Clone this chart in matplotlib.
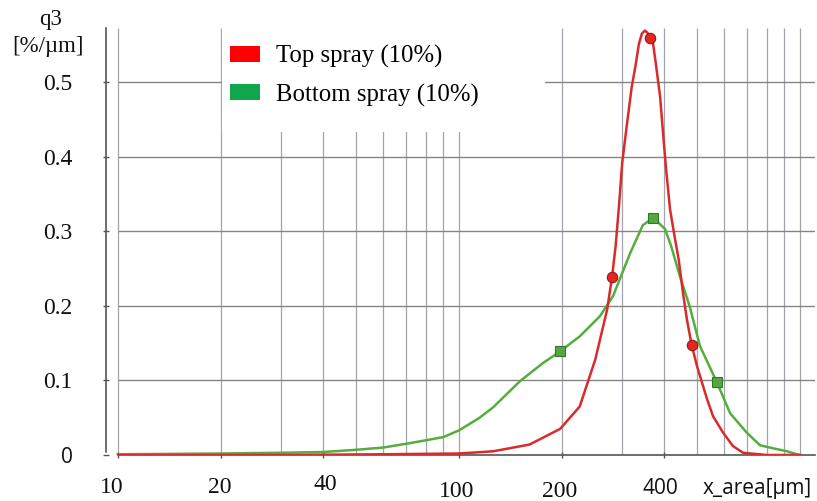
import matplotlib
matplotlib.use("Agg")
import matplotlib.pyplot as plt
from matplotlib.patches import Patch, Rectangle
from matplotlib import transforms
from matplotlib.ticker import NullLocator, FixedLocator

# ---------------- data ----------------
top_x = [10, 30, 60, 100, 126, 161, 198, 226, 251, 272, 281, 288, 295, 301, 311,
         321, 330, 337, 344, 351, 357, 363, 371, 378, 389, 396, 405, 416, 430, 441,
         454, 466, 481, 499, 534, 556, 595, 636, 681, 800, 1000]
top_y = [0, 0, 0.001, 0.002, 0.005, 0.014, 0.035, 0.065, 0.128, 0.195, 0.238, 0.280,
         0.337, 0.391, 0.444, 0.493, 0.524, 0.551, 0.565, 0.569, 0.566, 0.559, 0.551,
         0.524, 0.480, 0.436, 0.383, 0.329, 0.290, 0.262, 0.217, 0.182, 0.148, 0.119,
         0.075, 0.052, 0.030, 0.012, 0.003, 0, 0]
top_marker_idx = [10, 21, 32]

bottom_x = [10, 20, 30, 40, 50, 60, 72, 90, 100, 115, 126, 151, 176, 198, 226, 259,
            283, 318, 346, 371, 402, 419, 445, 475, 509, 570, 624, 698, 764, 834,
            916, 980, 1000]
bottom_y = [0.001, 0.002, 0.003, 0.004, 0.007, 0.010, 0.016, 0.024, 0.033, 0.050,
            0.064, 0.099, 0.123, 0.139, 0.159, 0.186, 0.213, 0.271, 0.308, 0.318,
            0.303, 0.280, 0.239, 0.199, 0.146, 0.098, 0.056, 0.030, 0.013, 0.009,
            0.005, 0.001, 0]
bottom_marker_idx = [13, 19, 25]

series_labels = ["Top spray (10%)", "Bottom spray (10%)"]
x_tick_vals = [10, 20, 40, 100, 200, 400]
x_tick_labels = ["10", "20", "40", "100", "200", "400"]
y_tick_vals = [0, 0.1, 0.2, 0.3, 0.4, 0.5]
y_tick_labels = ["0", "0.1", "0.2", "0.3", "0.4", "0.5"]

# ---------------- figure ----------------
W, H = 817, 501
fig = plt.figure(figsize=(W / 100, H / 100), dpi=100)
fig.patch.set_facecolor("white")
ax = fig.add_axes([106 / W, 46 / H, (815 - 106) / W, (455 - 28) / H])
ax.set_xscale("log")
XMIN, XMAX = 9.22, 1107
YMAX = 0.5724
ax.set_xlim(XMIN, XMAX)
ax.set_ylim(0, YMAX)

serif = "Liberation Serif"
sans = "Open Sans"

# grid
vgrid = [10 * k for k in range(1, 10)] + [100 * k for k in range(1, 10)] + [1000]
ax.vlines(vgrid, 0, YMAX, colors="#a4a4ac", linewidth=0.9, zorder=1)
ax.hlines(y_tick_vals[1:], 10, XMAX, colors="#858585", linewidth=1.0, zorder=1)

# white area behind legend
ax.add_patch(Rectangle((0.1636, 0.7564), 0.4556, 0.26, transform=ax.transAxes,
                       facecolor="white", edgecolor="none", zorder=1.5,
                       clip_on=False))

# curves
ax.plot(top_x, top_y, color="#d92b2b", linewidth=1.8, zorder=3,
        marker="o", markevery=top_marker_idx, markersize=7.5,
        markerfacecolor="#ea2420", markeredgecolor="#8e1a1a", markeredgewidth=0.8)
ax.plot(bottom_x, bottom_y, color="#55ad3e", linewidth=1.8, zorder=2.5,
        marker="s", markevery=bottom_marker_idx, markersize=7,
        markerfacecolor="#58a640", markeredgecolor="#2e7a2a", markeredgewidth=0.8)

# spines
for s in ["top", "right"]:
    ax.spines[s].set_visible(False)
ax.spines["bottom"].set_bounds(10, XMAX)
ax.spines["bottom"].set_color("#555555")
ax.spines["bottom"].set_linewidth(1.2)
ax.spines["left"].set_color("#555555")
ax.spines["left"].set_linewidth(1.2)
ax.spines["left"].set_bounds(0.004, YMAX)

# x ticks (small marks only, labels drawn as text)
ax.xaxis.set_major_locator(FixedLocator(x_tick_vals))
ax.xaxis.set_minor_locator(NullLocator())
ax.set_xticklabels([])
ax.tick_params(axis="x", direction="inout", length=4, width=1, color="#555555")

# y ticks
ax.set_yticks(y_tick_vals)
ax.set_yticklabels(y_tick_labels)
ax.tick_params(axis="y", direction="inout", length=4, width=1, color="#555555",
               pad=22)
for lab in ax.get_yticklabels():
    if lab.get_text() == "0":
        lab.set_fontfamily(sans)
        lab.set_fontsize(15)
    else:
        lab.set_fontfamily(serif)
        lab.set_fontsize(17)
    lab.set_color("#111111")

# x tick label text
blend = transforms.blended_transform_factory(ax.transData, ax.transAxes)
x_label_dx = [-6, -1, 2, -2, -2, -4]          # pixel nudges
x_label_y = [-0.089, -0.089, -0.082, -0.0984, -0.0984, -0.0913]
x_label_font = [serif, serif, serif, serif, serif, sans]
x_label_size = [17, 17, 17, 17, 17, 15]
for v, t, dx, yy, fam, fs in zip(x_tick_vals, x_tick_labels, x_label_dx,
                                 x_label_y, x_label_font, x_label_size):
    tr = transforms.offset_copy(blend, fig=fig, x=dx, y=0, units="dots")
    ax.text(v, yy, t, transform=tr, ha="center", va="baseline",
            fontfamily=fam, fontsize=fs, color="#111111", clip_on=False)

fig.text(757.5 / W, (H - 494) / H, "x_area[µm]", ha="center", va="baseline",
         fontfamily=sans, fontsize=15, color="#111111")

# y axis title
fig.text(51 / W, (H - 25) / H, "q3", ha="center", va="baseline",
         fontfamily=serif, fontsize=16.5, color="#111111")
fig.text(47.5 / W, (H - 52) / H, "[%/µm]", ha="center", va="baseline",
         fontfamily=serif, fontsize=16.5, color="#111111")

# legend
handles = [Patch(facecolor="#ff0000", edgecolor="none", label=series_labels[0]),
           Patch(facecolor="#12a64c", edgecolor="none", label=series_labels[1])]
leg = ax.legend(handles=handles, loc="upper left",
                bbox_to_anchor=((230 - 106) / 709, (455 - 45) / 427),
                frameon=False, prop={"family": serif, "size": 17.8},
                handlelength=1.21, handleheight=0.61, handletextpad=0.65,
                labelspacing=0.62, borderpad=0, borderaxespad=0)
leg.set_zorder(5)

fig.savefig("out.png", dpi=100, facecolor="white")
